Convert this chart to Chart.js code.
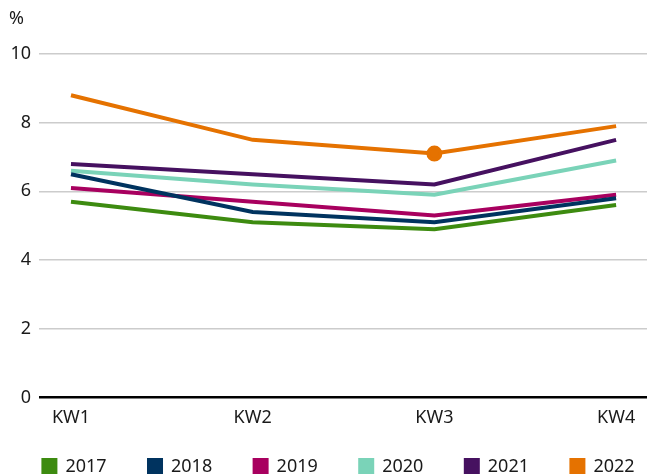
<!DOCTYPE html>
<html>
<head>
<meta charset="utf-8">
<script src="https://cdn.jsdelivr.net/npm/chart.js@4.4.1/dist/chart.umd.min.js"></script>
<style>
  html, body { margin: 0; padding: 0; background: #fff; }
  #wrap { width: 647px; height: 474px; }
</style>
</head>
<body>
<div id="wrap"><canvas id="chart" width="647" height="474"></canvas></div>
<script>
const weeks = ['KW1', 'KW2', 'KW3', 'KW4'];
const years = ['2017', '2018', '2019', '2020', '2021', '2022'];
const v2017 = [5.7, 5.1, 4.9, 5.6];
const v2018 = [6.5, 5.4, 5.1, 5.8];
const v2019 = [6.1, 5.7, 5.3, 5.9];
const v2020 = [6.6, 6.2, 5.9, 6.9];
const v2021 = [6.8, 6.5, 6.2, 7.5];
const v2022 = [8.8, 7.5, 7.1, 7.9];
const yTicks = [0, 2, 4, 6, 8, 10];

const series = [v2017, v2018, v2019, v2020, v2021, v2022];
const colors = ['#3d8b10', '#00335f', '#a8005f', '#7ad3b8', '#461160', '#e57200'];

Chart.defaults.font.family = "'Noto Sans', sans-serif";
Chart.defaults.font.size = 18;
Chart.defaults.color = '#1a1a1a';

const datasets = series.map((vals, i) => ({
  label: years[i],
  data: vals.map((v, k) => ({ x: k, y: v })),
  borderColor: colors[i],
  backgroundColor: colors[i],
  borderWidth: 4,
  tension: 0,
  // nur 2022 hat einen Marker, bei KW3
  pointRadius: i === 5 ? vals.map((v, k) => (k === 2 ? 6 : 0)) : 0,
  pointHoverRadius: 0
}));

// Einheit oben links und Legende unten von Hand zeichnen
const extras = {
  id: 'extras',
  afterDraw(chart) {
    const ctx = chart.ctx;
    const box = 16, gap = 8, step = 105.6;
    ctx.save();
    ctx.font = "18px 'Noto Sans', sans-serif";
    ctx.textBaseline = 'middle';
    ctx.textAlign = 'left';
    ctx.fillStyle = '#1a1a1a';
    ctx.fillText('%', 9, 19);

    const lastW = box + gap + ctx.measureText(years[years.length - 1]).width;
    const total = step * (years.length - 1) + lastW;
    const area = chart.chartArea;
    let x = (area.left + area.right) / 2 - total / 2 - 5;
    const y = chart.height - 8;
    years.forEach((yr, i) => {
      ctx.fillStyle = colors[i];
      ctx.fillRect(x, y - box / 2, box, box);
      ctx.fillStyle = '#1a1a1a';
      ctx.fillText(yr, x + box + gap, y + 1);
      x += step;
    });
    ctx.restore();
  }
};

new Chart(document.getElementById('chart'), {
  type: 'line',
  data: { datasets },
  plugins: [extras],
  options: {
    responsive: false,
    animation: false,
    layout: { padding: { left: 0, right: 0, top: 54, bottom: 43 } },
    scales: {
      x: {
        type: 'linear',
        min: -0.176,
        max: 3.17,
        afterBuildTicks: (axis) => { axis.ticks = weeks.map((w, k) => ({ value: k })); },
        ticks: {
          callback: (v) => weeks[v] ?? '',
          padding: 2,
          maxRotation: 0
        },
        grid: { display: false },
        border: { display: false }
      },
      y: {
        min: 0,
        max: 10,
        afterBuildTicks: (axis) => { axis.ticks = yTicks.map(v => ({ value: v })); },
        afterFit: (axis) => { axis.width = 39; },
        ticks: { padding: 8 },
        grid: {
          drawTicks: false,
          color: (c) => (c.tick && c.tick.value === 0 ? '#000' : '#cccccc'),
          lineWidth: (c) => (c.tick && c.tick.value === 0 ? 2.5 : 1.5)
        },
        border: { display: false }
      }
    },
    plugins: {
      title: { display: false },
      legend: { display: false },
      tooltip: { enabled: false }
    }
  }
});
</script>
</body>
</html>
